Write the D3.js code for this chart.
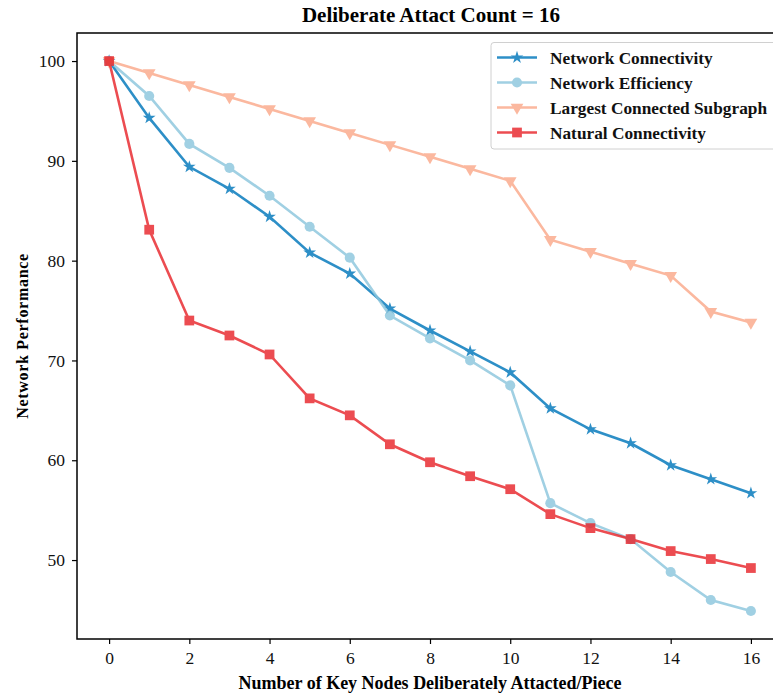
<!DOCTYPE html>
<meta charset="utf-8">
<head>
    <title>Deliberate Attact Count</title>
    <script type="text/javascript" src="https://cdn.jsdelivr.net/npm/d3@7"></script>
    <style>
        body { margin: 0; background: #fff; }
        text { font-family: "Liberation Serif", "Times New Roman", serif; }
    </style>
</head>
<body>
    <div id="chart"></div>
    <script>
        // data
        var steps = d3.range(0, 17)
        var seriesNames = ["Network Connectivity", "Network Efficiency", "Largest Connected Subgraph", "Natural Connectivity"]
        var connectivity = [100, 94.3, 89.4, 87.2, 84.4, 80.8, 78.7, 75.2, 73.0, 70.9, 68.8, 65.2, 63.1, 61.7, 59.5, 58.1, 56.7]
        var efficiency   = [100, 96.5, 91.7, 89.3, 86.5, 83.4, 80.3, 74.5, 72.2, 70.0, 67.5, 55.7, 53.7, 52.1, 48.8, 46.0, 44.9]
        var largestSub   = [100, 98.8, 97.6, 96.4, 95.2, 94.0, 92.8, 91.6, 90.4, 89.2, 88.0, 82.1, 80.9, 79.7, 78.5, 74.9, 73.8]
        var naturalConn  = [100, 83.1, 74.0, 72.5, 70.6, 66.2, 64.5, 61.6, 59.8, 58.4, 57.1, 54.6, 53.2, 52.1, 50.9, 50.1, 49.2]
        var xTicks = [0, 2, 4, 6, 8, 10, 12, 14, 16]
        var yTicks = [50, 60, 70, 80, 90, 100]

        var colors = ["#0077bb", "#8cc6dd", "#fba98a", "#e8262b"]
        var symbols = [d3.symbolStar, d3.symbolCircle, d3.symbolTriangle, d3.symbolSquare]
        var symSizes = [50, 80, 70, 95]
        var allSeries = [connectivity, efficiency, largestSub, naturalConn]

        var width = 773, height = 694
        var plot = {left: 77, right: 783, top: 33, bottom: 639}

        var svg = d3.select("#chart").append("svg")
          .attr("width", width)
          .attr("height", height)

        var x = d3.scaleLinear().domain([-0.8, 16.8]).range([plot.left, plot.right])
        var y = d3.scaleLinear().domain([42.09, 102.81]).range([plot.bottom, plot.top])

        // axes
        var xAxis = svg.append("g")
          .attr("transform", "translate(0," + plot.bottom + ")")
          .call(d3.axisBottom(x).tickValues(xTicks).tickSize(5).tickPadding(8).tickFormat(d3.format("d")))
        var yAxis = svg.append("g")
          .attr("transform", "translate(" + plot.left + ",0)")
          .call(d3.axisLeft(y).tickValues(yTicks).tickSize(5).tickPadding(7).tickFormat(d3.format("d")))
        ;[xAxis, yAxis].forEach(function(a){
          a.select(".domain").remove()
          a.selectAll("line").attr("stroke", "#000").attr("stroke-width", 1.2)
          a.selectAll("text").style("font-size", "17.5px").attr("fill", "#111")
            .style("font-family", "'Liberation Serif', serif")
        })

        // frame
        svg.append("rect")
          .attr("x", plot.left).attr("y", plot.top)
          .attr("width", plot.right - plot.left).attr("height", plot.bottom - plot.top)
          .attr("fill", "none").attr("stroke", "#000").attr("stroke-width", 1.5)

        // lines and markers
        var line = d3.line().x(function(d, i){ return x(steps[i]) }).y(function(d){ return y(d) })
        allSeries.forEach(function(vals, s){
          var g = svg.append("g").attr("opacity", 0.82)
          g.append("path")
            .attr("d", line(vals))
            .attr("fill", "none")
            .attr("stroke", colors[s])
            .attr("stroke-width", 2.6)
          g.selectAll("path.m")
            .data(vals)
            .enter()
              .append("path")
              .attr("class", "m")
              .attr("d", d3.symbol().type(symbols[s]).size(symSizes[s]))
              .attr("transform", function(d, i){
                return "translate(" + x(steps[i]) + "," + y(d) + ")" + (s == 2 ? " rotate(180)" : "")
              })
              .attr("fill", colors[s])
        })

        // legend
        var legend = svg.append("g")
        legend.append("rect")
          .attr("x", 491).attr("y", 42.5).attr("width", 300).attr("height", 106.5)
          .attr("rx", 3)
          .attr("fill", "#fff").attr("fill-opacity", 0.85)
          .attr("stroke", "#d0d0d0").attr("stroke-width", 1)
        seriesNames.forEach(function(name, s){
          var ly = 57.5 + s * 25
          var lg = legend.append("g").attr("opacity", 0.82)
          lg.append("line")
            .attr("x1", 497).attr("x2", 537).attr("y1", ly).attr("y2", ly)
            .attr("stroke", colors[s]).attr("stroke-width", 2.6)
          lg.append("path")
            .attr("d", d3.symbol().type(symbols[s]).size(symSizes[s]))
            .attr("transform", "translate(517," + ly + ")" + (s == 2 ? " rotate(180)" : ""))
            .attr("fill", colors[s])
          legend.append("text")
            .attr("x", 550).attr("y", ly)
            .attr("dy", "0.35em")
            .style("font-size", "17.3px").style("font-weight", "bold")
            .attr("fill", "#111")
            .text(name)
        })

        // title and axis labels
        svg.append("text")
          .attr("x", 431).attr("y", 22)
          .attr("text-anchor", "middle")
          .style("font-size", "21px").style("font-weight", "bold")
          .text("Deliberate Attact Count = 16")
        svg.append("text")
          .attr("x", 430).attr("y", 689)
          .attr("text-anchor", "middle")
          .style("font-size", "18px").style("font-weight", "bold")
          .text("Number of Key Nodes Deliberately Attacted/Piece")
        svg.append("text")
          .attr("transform", "translate(28," + ((plot.top + plot.bottom) / 2) + ") rotate(-90)")
          .attr("text-anchor", "middle")
          .style("font-size", "16px").style("font-weight", "bold")
          .style("letter-spacing", "0.7px")
          .text("Network Performance")
    </script>
</body>
</html>
